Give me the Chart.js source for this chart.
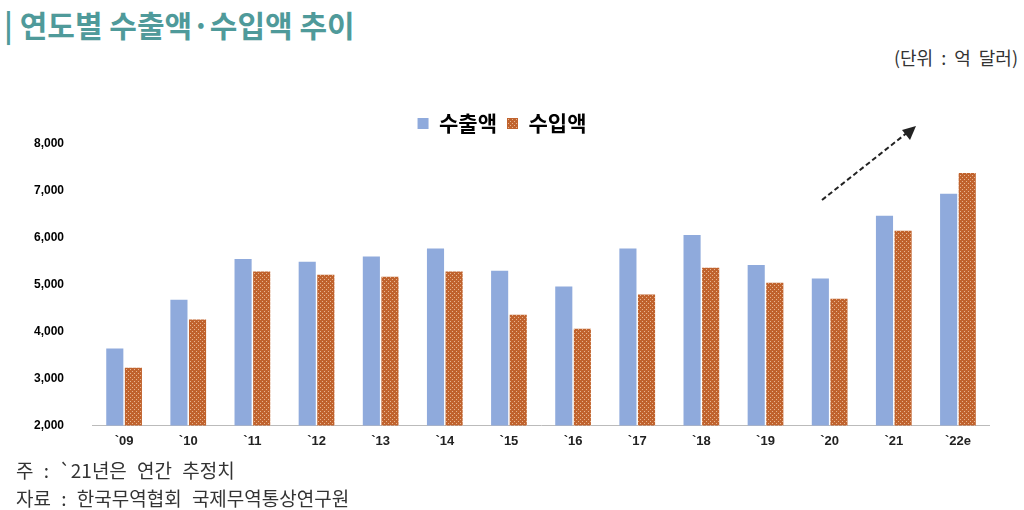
<!DOCTYPE html><html><head><meta charset="utf-8">
<script src="https://cdn.jsdelivr.net/npm/chart.js@4"></script>
<style>
body{margin:0;width:1024px;height:510px;background:#fff;font-family:"Noto Sans CJK KR",sans-serif;position:relative;overflow:hidden}
#t{position:absolute;left:4px;top:2px;font-size:30px;font-weight:bold;color:#4f9a9a;letter-spacing:0px}
#u{position:absolute;right:6px;top:44px;font-size:18px;color:#333;word-spacing:4px}
#n1{position:absolute;left:16px;top:456px;font-size:19px;color:#333;word-spacing:6px}
#n2{position:absolute;left:16px;top:484px;font-size:19px;color:#333;word-spacing:6px}
#w{position:absolute;left:0;top:103px;width:990px;height:354px}
</style></head><body>
<div id="t">| 연도별 수출액·수입액 추이</div>
<div id="u">(단위 : 억 달러)</div>
<div id="w"><canvas id="c"></canvas></div>
<div id="n1">주 : `21년은 연간 추정치</div>
<div id="n2">자료 : 한국무역협회 국제무역통상연구원</div>
<script>
const categories=["`09","`10","`11","`12","`13","`14","`15","`16","`17","`18","`19","`20","`21","`22e"];
const exportsV=[3640,4680,5550,5490,5600,5770,5300,4960,5770,6060,5420,5130,6470,6940];
const importsV=[3230,4260,5280,5210,5170,5280,4360,4060,4790,5360,5040,4700,6150,7380];
const yTicks=[2000,3000,4000,5000,6000,7000,8000];
function pat(){const p=document.createElement('canvas');p.width=4;p.height=4;const g=p.getContext('2d');g.fillStyle='#c0632e';g.fillRect(0,0,4,4);g.fillStyle='#e8b48f';g.fillRect(0,0,1,1);g.fillRect(2,2,1,1);return g.createPattern(p,'repeat');}
const arrow={id:'arrow',afterDraw(ch){const x=ch.ctx;x.save();x.strokeStyle='#222';x.lineWidth=2;x.setLineDash([5,3]);x.beginPath();x.moveTo(822,97);x.lineTo(908,29);x.stroke();x.setLineDash([]);x.fillStyle='#222';x.beginPath();x.moveTo(916,23);x.lineTo(902,27);x.lineTo(910,37);x.fill();x.restore();}};
new Chart(document.getElementById('c'),{type:'bar',data:{labels:categories,datasets:[
{label:'수출액',data:exportsV,backgroundColor:'#8faadc'},
{label:'수입액',data:importsV,backgroundColor:pat()}]},
options:{responsive:true,maintainAspectRatio:false,animation:false,
datasets:{bar:{categoryPercentage:0.58,barPercentage:0.92}},
layout:{padding:{left:14,right:0,top:0,bottom:0}},
plugins:{legend:{labels:{boxWidth:11,boxHeight:11,font:{size:21,weight:'bold',family:'"Noto Sans CJK KR"'},color:'#000'}},tooltip:{enabled:false}},
scales:{x:{grid:{display:false,drawTicks:false},border:{color:'#bbb'},ticks:{color:'#222',padding:8,font:{size:13,weight:'bold',family:'Arial'}}},
y:{min:2000,max:8000,afterBuildTicks(a){a.ticks=yTicks.map(v=>({value:v}));},grid:{display:false},border:{display:false},ticks:{color:'#000',padding:20,font:{size:12,weight:'bold',family:'Arial'},callback:v=>v.toLocaleString('en-US')}}}},
plugins:[arrow]});
</script></body></html>
